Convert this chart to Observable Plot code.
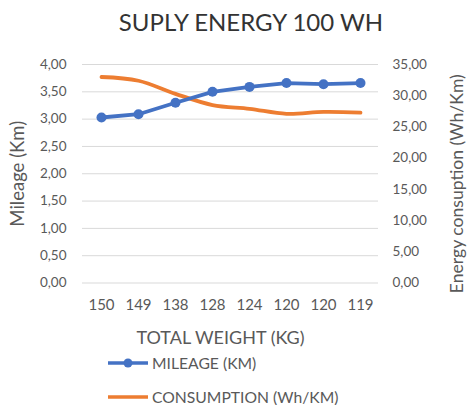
<!DOCTYPE html>
<html><head><meta charset="utf-8">
<script src="https://cdn.jsdelivr.net/npm/d3@7"></script>
<script src="https://cdn.jsdelivr.net/npm/@observablehq/plot@0.6"></script>
<style>
body{margin:0;background:#fff;font-family:Lato,"Liberation Sans",sans-serif;}
#wrap{position:relative;width:468px;height:405px;overflow:hidden;background:#fff}
#title{position:absolute;left:0;top:0;width:468px;box-sizing:border-box;padding-left:34px;text-align:center;height:44px;line-height:44px;font-size:24px;color:#333;}
#chart{position:absolute;left:0;top:45px;}
.leg{position:absolute;left:107px;height:20px;display:flex;align-items:center;font-size:15.7px;color:#595959;white-space:nowrap}
.leg svg{margin-right:3px}
</style></head><body>
<div id="wrap">
  <div id="title">SUPLY ENERGY 100 WH</div>
  <div id="chart"></div>
  <div class="leg" style="top:353px"><svg width="42" height="12"><line x1="1" y1="6" x2="41" y2="6" stroke="#4472C4" stroke-width="3.5"/><circle cx="21" cy="6" r="4.5" fill="#4472C4"/></svg>MILEAGE (KM)</div>
  <div class="leg" style="top:387px"><svg width="42" height="12"><line x1="1" y1="6" x2="41" y2="6" stroke="#ED7D31" stroke-width="3.5"/></svg>CONSUMPTION (Wh/KM)</div>
</div>
<script>
const weights = ["150","149","138","128","124","120","120","119"];
const mileage = [3.03, 3.09, 3.30, 3.50, 3.59, 3.66, 3.64, 3.66];
const consumption = [33.0, 32.4, 30.3, 28.5, 27.9, 27.1, 27.4, 27.3];
const leftTicks = [0, 0.5, 1, 1.5, 2, 2.5, 3, 3.5, 4];
const rightTicks = [0, 5, 10, 15, 20, 25, 30, 35];

const k = 4 / 35;
const fmt = d => d.toFixed(2).replace(".", ",");
const rows = weights.map((w, i) => ({i, w, m: mileage[i], c: consumption[i] * k}));
const H = 312;
const chart = Plot.plot({
  width: 468, height: H,
  marginTop: 19, marginBottom: H - 237.5, marginLeft: 82, marginRight: 90,
  style: {fontFamily: "Lato, 'Liberation Sans', sans-serif", color: "#595959", background: "transparent"},
  x: {type: "point", domain: d3.range(weights.length), padding: 0.5, axis: null},
  y: {domain: [0, 4], axis: null},
  marks: [
    Plot.ruleY(leftTicks, {stroke: "#d9d9d9", strokeWidth: 1}),
    Plot.text(leftTicks, {y: d => d, text: fmt, frameAnchor: "left", textAnchor: "end", dx: -16, fontSize: 13.5, fill: "#595959"}),
    Plot.text(rightTicks, {y: d => d * k, text: fmt, frameAnchor: "right", textAnchor: "start", dx: 14, fontSize: 13.5, fill: "#595959"}),
    Plot.text(rows, {x: "i", text: "w", frameAnchor: "bottom", dy: 22.5, lineAnchor: "middle", fontSize: 15, fill: "#595959"}),
    Plot.text(["TOTAL WEIGHT (KG)"], {text: d => d, frameAnchor: "bottom", dx: -10, dy: 55, lineAnchor: "middle", fontSize: 18, fill: "#595959"}),
    Plot.text(["Mileage (Km)"], {text: d => d, frameAnchor: "left", textAnchor: "middle", y: 2, dx: -64, rotate: -90, lineAnchor: "middle", fontSize: 18.5, fill: "#595959"}),
    Plot.text(["Energy consuption (Wh/Km)"], {text: d => d, frameAnchor: "right", textAnchor: "middle", y: 2, dx: 79, dy: 10, rotate: -90, lineAnchor: "middle", fontSize: 17.6, fill: "#595959"}),
    Plot.line(rows, {x: "i", y: "c", stroke: "#ED7D31", strokeWidth: 3.8, curve: "catmull-rom"}),
    Plot.line(rows, {x: "i", y: "m", stroke: "#4472C4", strokeWidth: 3.8}),
    Plot.dot(rows, {x: "i", y: "m", fill: "#4472C4", r: 5})
  ]
});
document.getElementById("chart").append(chart);
</script>
</body></html>
